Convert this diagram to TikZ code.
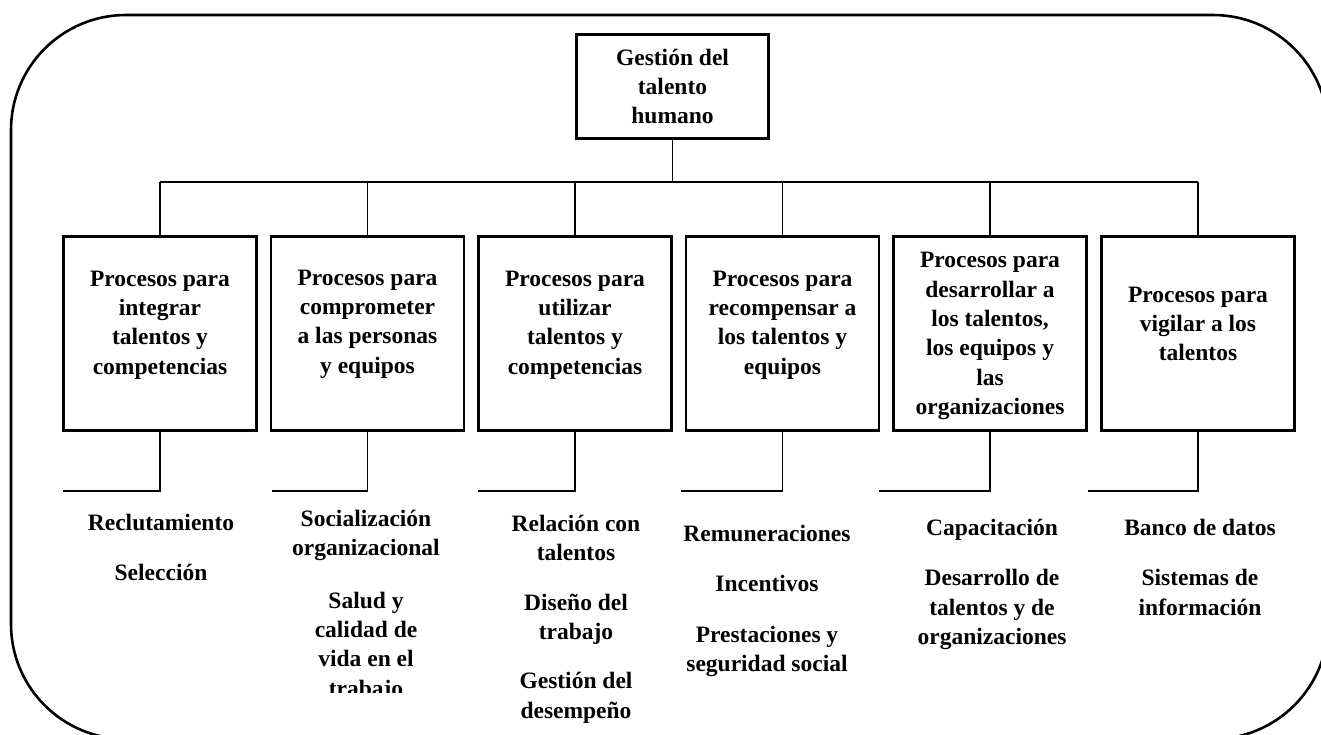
\documentclass[tikz,border=0pt]{standalone}
\usepackage{fontspec}
\setmainfont{Liberation Serif}
\begin{document}
\begin{tikzpicture}[x=1pt,y=-1pt]
\tikzset{
  frame/.style={line width=2.6pt, rounded corners=115pt},
  proc/.style={draw, line width=2.6pt, minimum width=193pt, minimum height=194pt, inner sep=0pt},
  topbox/.style={draw, line width=2.6pt, minimum width=192pt, minimum height=104pt, inner sep=0pt,
    font=\fontsize{23.5}{29.3}\selectfont\bfseries, align=center},
  boxtext/.style={font=\fontsize{23.5}{29.3}\selectfont\bfseries, align=center, inner sep=0pt},
  item/.style={font=\fontsize{23.5}{29.3}\selectfont\bfseries, align=center, anchor=north, inner sep=0pt},
  conn/.style={line width=1.4pt}
}
\useasboundingbox (0,0) rectangle (1321,734);
\fill[white] (0,0) rectangle (1321,734);
% outer frame
\draw[frame] (11,15) rectangle (1328,739);

% top node
\node[topbox] (top) at (672.5,86.5) {Gesti\'on del\\talento\\humano};

% process boxes
\node[proc, label={[boxtext, yshift=8.5pt]center:{Procesos para\\integrar\\talentos y\\competencias}}] (b1) at (160,333.5) {};
\node[proc, label={[boxtext, yshift=9.5pt]center:{Procesos para\\comprometer\\a las personas\\y equipos}}] (b2) at (367.5,333.5) {};
\node[proc, label={[boxtext, yshift=8.5pt]center:{Procesos para\\utilizar\\talentos y\\competencias}}] (b3) at (575,333.5) {};
\node[proc, label={[boxtext, yshift=8.5pt]center:{Procesos para\\recompensar a\\los talentos y\\equipos}}] (b4) at (782.5,333.5) {};
\node[proc, label={[boxtext, yshift=-2.5pt]center:{Procesos para\\desarrollar a\\los talentos,\\los equipos y\\las\\organizaciones}}] (b5) at (990,333.5) {};
\node[proc, label={[boxtext, yshift=9.5pt]center:{Procesos para\\vigilar a los\\talentos}}] (b6) at (1198,333.5) {};

% bus
\coordinate (bus) at (672.5,182);
\draw[conn] (top.south) -- (top.south |- bus);
\draw[conn] (b1.north |- bus) -- (b6.north |- bus);
\foreach \b in {b1,b2,b3,b4,b5,b6} {
  \draw[conn] (\b.north) -- (\b.north |- bus);
}

% lower connectors
\coordinate (e1) at (63,491);
\coordinate (e2) at (272,491);
\coordinate (e3) at (478,491);
\coordinate (e4) at (681,491);
\coordinate (e5) at (879,491);
\coordinate (e6) at (1088,491);
\foreach \i in {1,...,6} {
  \draw[conn] (b\i.south) |- (e\i);
}

% items
\node[item] (i1) at (161,514) {Reclutamiento\\[21pt]Selecci\'on};
\begin{scope}
  \clip (250,480) rectangle (480,692);
  \node[item] (i2) at (366,510) {Socializaci\'on\\organizacional\\[23pt]Salud y\\calidad de\\vida en el\\trabajo};
\end{scope}
\node[item] (i3) at (576,515) {Relaci\'on con\\talentos\\[20pt]Dise\~no del\\trabajo\\[20pt]Gesti\'on del\\desempe\~no};
\node[item] (i4) at (767,525) {Remuneraciones\\[21pt]Incentivos\\[21pt]Prestaciones y\\seguridad social};
\node[item] (i5) at (992,519) {Capacitaci\'on\\[21pt]Desarrollo de\\talentos y de\\organizaciones};
\node[item] (i6) at (1200,519) {Banco de datos\\[21pt]Sistemas de\\informaci\'on};
\end{tikzpicture}
\end{document}
